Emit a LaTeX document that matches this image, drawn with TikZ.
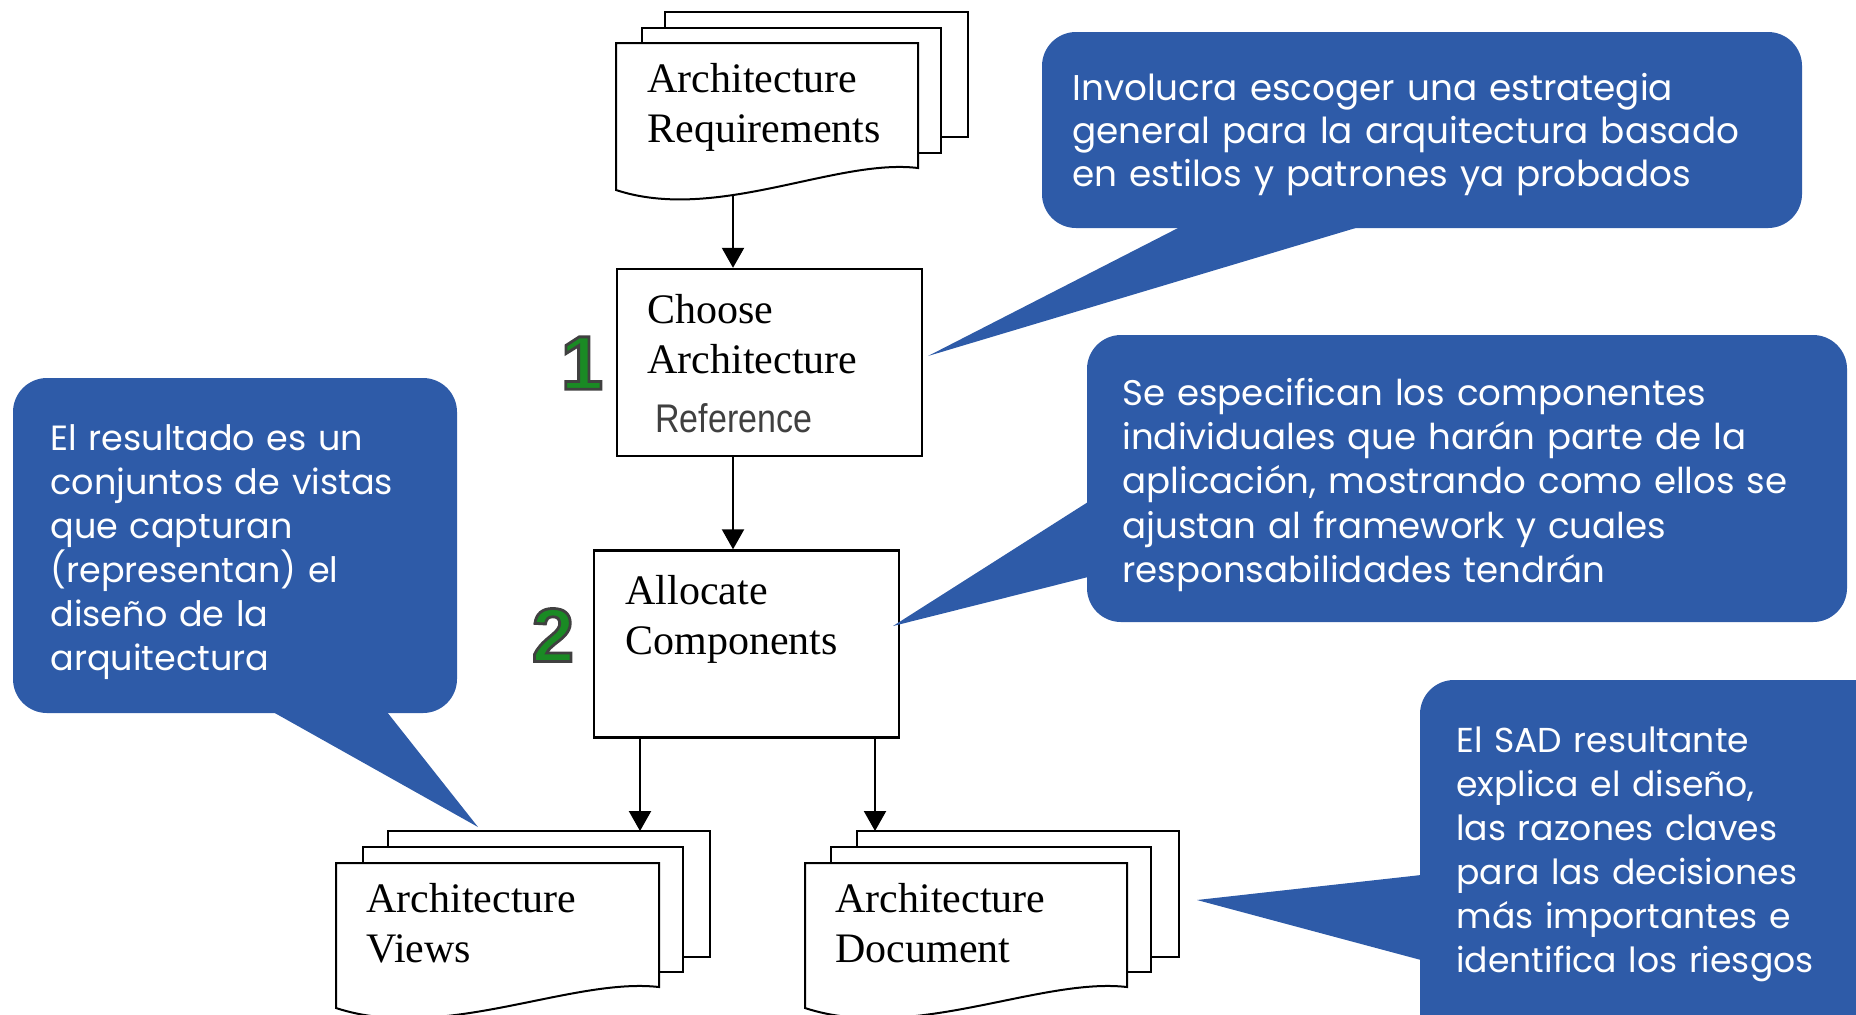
\documentclass[tikz,border=0pt]{standalone}
\usepackage{fontspec}
\setmainfont{Liberation Serif}
\newfontfamily\callfont{Poppins}
\newfontfamily\reffont{Liberation Sans}
\usetikzlibrary{arrows.meta,calc,positioning}
\definecolor{callblue}{RGB}{46,91,168}
\definecolor{numgreen}{RGB}{26,138,36}
\definecolor{refgray}{RGB}{64,64,64}
\newcommand{\outlined}[1]{\special{pdf:literal q 2 Tr 1.4 w 0.25 0.25 0.25 RG}#1\special{pdf:literal Q}}

\begin{document}
\begin{tikzpicture}[
    x=0.5pt, y=-0.5pt,
    page/.style={draw=black, fill=white, line width=1pt},
    stepbox/.style={rectangle, draw=black, fill=white, line width=1.2pt, minimum width=152.5pt, minimum height=93.5pt, inner sep=0pt},
    doctext/.style={anchor=base west, inner sep=0pt, text width=170pt, align=left, font=\fontsize{21}{25}\selectfont},
    calltext/.style={anchor=base west, inner sep=0pt, align=left, text=white, font=\callfont\fontsize{17.5}{22}\selectfont},
    callout/.style={fill=callblue, rounded corners=17pt},
    tail/.style={fill=callblue},
    number/.style={font=\reffont\bfseries\fontsize{38}{38}\selectfont, text=numgreen, inner sep=0pt},
    arrow/.style={-{Triangle[width=11pt,length=10pt]}, line width=1.1pt}
]
\useasboundingbox (0,0) rectangle (1856,1014);
\clip (0,0) rectangle (1856,1014);

% Input: architecture requirements
\begin{scope}[shift={(616,43)}]
    \draw[page] (49,-31) rectangle (352,94);
    \draw[page] (26,-15) rectangle (325,110);
    \draw[page] (0,0) -- (302,0) -- (302,125) .. controls (220,115) and (100,180) .. (0,147) -- cycle;
\end{scope}
\node[doctext] (req) at (647,92) {Architecture\\Requirements};

% Step 1 and step 2
\node[stepbox] (choose) at (769.5,362.5) {};
\node[doctext] (choose-txt) at (647,323) {Choose\\Architecture\\[4.5pt]\hspace*{4pt}{\reffont\color{refgray}\scalebox{0.85}[1]{\fontsize{20}{24}\selectfont Reference}}};
\node[number] (n1) at (582,363) {\outlined{1}};

\node[stepbox] (allocate) at (746.5,644) {};
\node[doctext] (allocate-txt) at (625,604) {Allocate\\Components};
\node[number] (n2) at (553,635) {\outlined{2}};

% Outputs: views and document
\begin{scope}[shift={(336,863)}]
    \draw[page] (52,-32) rectangle (374,94);
    \draw[page] (27,-16) rectangle (347,109);
    \draw[page] (0,0) -- (323,0) -- (323,124) .. controls (235,114) and (107,180) .. (0,145) -- cycle;
\end{scope}
\node[doctext] (views) at (366,912) {Architecture\\Views};

\begin{scope}[shift={(805,863)}]
    \draw[page] (52,-32) rectangle (374,94);
    \draw[page] (26,-16) rectangle (346,109);
    \draw[page] (0,0) -- (322,0) -- (322,124) .. controls (235,114) and (107,180) .. (0,145) -- cycle;
\end{scope}
\node[doctext] (sad) at (835,912) {Architecture\\Document};

% Flow
\coordinate (req-out) at (733,194);
\coordinate (views-in) at (640,831);
\coordinate (sad-in) at (875,831);
\draw[arrow] (req-out) -- (req-out |- choose.north);
\draw[arrow] (choose.south -| req-out) -- (allocate.north -| req-out);
\draw[arrow] (allocate.south -| views-in) -- (views-in);
\draw[arrow] (allocate.south -| sad-in) -- (sad-in);

% Callout 1: strategy
\fill[callout] (1042,32) rectangle (1802,228);
\coordinate (tip1) at (928,356);
\fill[tail] (1180,227) -- (tip1) -- (1359,227) -- cycle;
\node[calltext, text width=380pt, font=\callfont\fontsize{17.9}{21.5}\selectfont] (note1) at (1072,100) {Involucra escoger una estrategia\\general para la arquitectura basado\\en estilos y patrones ya probados};

% Callout 2: components
\fill[callout] (1087,335) rectangle (1847,622);
\coordinate (tip2) at (893,626);
\fill[tail] (1088,502) -- (tip2) -- (1088,577) -- cycle;
\node[calltext, text width=380pt, font=\callfont\fontsize{17.8}{22.2}\selectfont] (note2) at (1122,405) {Se especifican los componentes\\individuales que harán parte de la\\aplicación, mostrando como ellos se\\ajustan al framework y cuales\\responsabilidades tendrán};

% Callout 3: views
\fill[callout] (13,378) rectangle (457,713);
\coordinate (tip3) at (478,827);
\fill[tail] (273,712) -- (tip3) -- (387,712) -- cycle;
\node[calltext, text width=220pt] (note3) at (50,450) {El resultado es un\\conjuntos de vistas\\que capturan\\(representan) el\\diseño de la\\arquitectura};

% Callout 4: SAD
\fill[callout] (1420,680) rectangle (1890,1050);
\coordinate (tip4) at (1197,900);
\fill[tail] (1421,875) -- (tip4) -- (1421,960) -- cycle;
\node[calltext, text width=220pt, font=\callfont\fontsize{17.3}{22}\selectfont] (note4) at (1456,752) {El SAD resultante\\explica el diseño,\\las razones claves\\para las decisiones\\más importantes e\\identifica los riesgos};

\end{tikzpicture}
\end{document}
